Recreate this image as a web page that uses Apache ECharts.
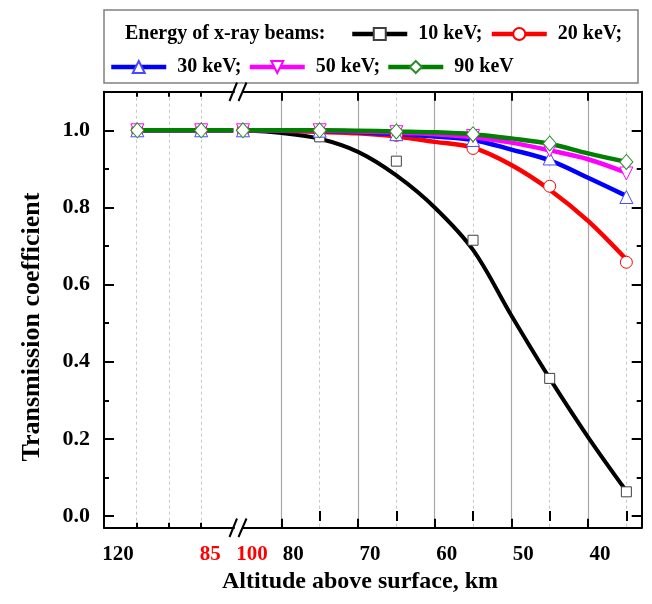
<!DOCTYPE html>
<html><head><meta charset="utf-8">
<script src="https://cdn.jsdelivr.net/npm/echarts@6/dist/echarts.min.js"></script>
<style>html,body{margin:0;padding:0;background:#fff}#c{width:652px;height:604px}</style>
</head><body><div id="c"></div>
<script>
// ---- data ----
const energies = ['10 keV', '20 keV', '30 keV', '50 keV', '90 keV'];
const colors = ['#000000', '#ff0000', '#0000ff', '#ff00ff', '#008000'];

// left (high-altitude) segment of the broken axis
const leftAltitudes = [108, 85];
const leftMarks = [[1.0, 1.0], [1.0, 1.0], [1.0, 1.0], [1.0, 1.0], [1.0, 1.0]];
const leftCurveAltitudes = [108, 85, 73.5];
const leftCurves = [[1.0, 1.0, 1.0], [1.0, 1.0, 1.0], [1.0, 1.0, 1.0], [1.0, 1.0, 1.0], [1.0, 1.0, 1.0]];

// right segment: computed points (markers)
const rightAltitudes = [85, 75, 65, 55, 45, 35];
const mark10 = [1.0, 0.983, 0.92, 0.715, 0.357, 0.063];
const mark20 = [1.0, 0.998, 0.987, 0.953, 0.855, 0.658];
const mark30 = [1.0, 0.999, 0.99, 0.975, 0.927, 0.827];
const mark50 = [1.0, 1.0, 0.995, 0.985, 0.948, 0.888];
const mark90 = [1.0, 1.0, 0.997, 0.99, 0.966, 0.918];

// right segment: fitted curves
const curveAltitudes = [85, 80, 75, 70, 65, 60, 55, 50, 45, 40, 35];
const curve10 = [1.0, 0.993, 0.978, 0.944, 0.883, 0.80, 0.69, 0.52, 0.357, 0.205, 0.065];
const curve20 = [1.0, 0.999, 0.996, 0.992, 0.984, 0.97, 0.955, 0.91, 0.846, 0.765, 0.665];
const curve30 = [1.0, 1.0, 0.998, 0.995, 0.99, 0.984, 0.975, 0.95, 0.922, 0.877, 0.83];
const curve50 = [1.0, 1.0, 0.999, 0.997, 0.994, 0.99, 0.982, 0.968, 0.948, 0.925, 0.89];
const curve90 = [1.0, 1.0, 1.0, 0.999, 0.997, 0.995, 0.99, 0.979, 0.965, 0.94, 0.918];

// ticks / labels
const yMajorTicks = [0, 0.2, 0.4, 0.6, 0.8, 1.0];
const yMinorTicks = [0.1, 0.3, 0.5, 0.7, 0.9];
const leftTicks = [108.33, 96.67, 85];
const leftLabels = [120, 85];
const rightMajorTicks = [80, 70, 60, 50, 40];
const rightMinorTicks = [75, 65, 55, 45, 35];
const rightLabels = [85, 80, 70, 60, 50, 40];
const rightLabelText = {85: '100'};   // red break label as printed in the original
const redLabels = [85];

const xTitle = 'Altitude above surface, km';
const yTitle = 'Transmission coefficient';
const legendTitle = 'Energy of x-ray beams:';

// ---- styling ----
const FONT = 'Liberation Serif';
const symbols = ['rect', 'circle', 'triangle', 'triangle', 'diamond'];
const symbolRot = [0, 0, 0, 180, 0];
const symbolSizes = [10, 12, 13, 13, [13, 15]];
const markBorder = ['#404040', '#ff0000', '#4848ff', '#ff00ff', '#2e8b2e'];
const lineWidths = [4, 4.5, 4.5, 4.5, 4.5];
const rightMarks = [mark10, mark20, mark30, mark50, mark90];
const rightCurves = [curve10, curve20, curve30, curve50, curve90];

const zip = (xs, ys) => xs.map((x, i) => [x, ys[i]]);

const series = [];
function curveSeries(i, xi, yi, xs, ys) {
  return {
    type: 'line', name: energies[i], xAxisIndex: xi, yAxisIndex: yi,
    data: zip(xs, ys), smooth: 0.35, showSymbol: false,
    symbol: symbols[i], symbolRotate: symbolRot[i], symbolSize: symbolSizes[i],
    lineStyle: {color: colors[i], width: lineWidths[i]},
    itemStyle: {color: '#ffffff', borderColor: markBorder[i], borderWidth: 1},
    z: 2, silent: true
  };
}
function markSeries(i, xi, yi, xs, ys) {
  return {
    type: 'scatter', name: energies[i], xAxisIndex: xi, yAxisIndex: yi,
    data: zip(xs, ys),
    symbol: symbols[i], symbolRotate: symbolRot[i], symbolSize: symbolSizes[i],
    itemStyle: {color: '#ffffff', borderColor: markBorder[i], borderWidth: 1, opacity: 1},
    z: 4, silent: true
  };
}
for (let i = 0; i < 5; i++) series.push(curveSeries(i, 2, 2, curveAltitudes, rightCurves[i]));
for (let i = 0; i < 5; i++) series.push(curveSeries(i, 0, 0, leftCurveAltitudes, leftCurves[i]));
for (let i = 0; i < 5; i++) series.push(markSeries(i, 2, 2, rightAltitudes, rightMarks[i]));
for (let i = 0; i < 5; i++) series.push(markSeries(i, 0, 0, leftAltitudes, leftMarks[i]));

const axisLine = {show: true, onZero: false, lineStyle: {color: '#000', width: 2}};
const noLine = {show: false};
const labelFont = {fontFamily: FONT, fontWeight: 'bold', fontSize: 21, color: '#000'};

const GT = 91.7, GH = 436;
const LEFT_MIN = 73.2, LEFT_MAX = 120;
const RIGHT_MIN = 33, RIGHT_MAX = 85;

const legendCommon = {
  padding: 0, orient: 'horizontal', itemWidth: 55, itemHeight: 15, selectedMode: false,
  lineStyle: {width: 4.5},
  textStyle: {fontFamily: FONT, fontWeight: 'bold', fontSize: 20, color: '#000', padding: [0, 0, 0, 6]}
};

const option = {
  animation: false,
  backgroundColor: '#ffffff',
  grid: [
    {left: 104, top: GT, width: 130, height: GH},
    {left: 243, top: GT, width: 398.7, height: GH}
  ],
  xAxis: [
    { // 0 left bottom
      gridIndex: 0, type: 'value', position: 'bottom', inverse: true, min: LEFT_MIN, max: LEFT_MAX,
      axisLine,
      axisTick: {show: true, inside: true, length: 5, customValues: leftTicks, lineStyle: {color: '#000', width: 2}},
      splitLine: {show: true, lineStyle: {color: '#c8c8c8', width: 1, type: [3, 3]}},
      axisLabel: {
        show: true, customValues: leftLabels, margin: 16, ...labelFont,
        formatter: v => redLabels.includes(v) ? '{r|' + v + '}' : '{b|' + v + '}',
        rich: {
          b: {...labelFont, padding: [0, 0, 0, 28]},
          r: {...labelFont, color: '#ff0000', padding: [0, 0, 0, 18]}
        }
      }
    },
    { // 1 left top
      gridIndex: 0, type: 'value', position: 'top', inverse: true, min: LEFT_MIN, max: LEFT_MAX,
      axisLine,
      axisTick: {show: true, inside: true, length: 5, customValues: leftTicks, lineStyle: {color: '#000', width: 2}},
      splitLine: {show: false}, axisLabel: {show: false}
    },
    { // 2 right bottom major
      gridIndex: 1, type: 'value', position: 'bottom', inverse: true, min: RIGHT_MIN, max: RIGHT_MAX,
      axisLine,
      axisTick: {show: true, inside: true, length: 9, customValues: rightMajorTicks, lineStyle: {color: '#000', width: 2}},
      splitLine: {show: true, lineStyle: {color: '#a8a8a8', width: 1.2}},
      axisLabel: {
        show: true, customValues: rightLabels, margin: 16, ...labelFont,
        formatter: v => redLabels.includes(v) ? '{r|' + (rightLabelText[v] || v) + '}' : '{b|' + v + '}',
        rich: {
          b: {...labelFont, padding: [0, 0, 0, 24]},
          r: {...labelFont, color: '#ff0000', padding: [0, 0, 0, 18]}
        }
      }
    },
    { // 3 right bottom minor
      gridIndex: 1, type: 'value', position: 'bottom', inverse: true, min: RIGHT_MIN, max: RIGHT_MAX,
      axisLine: noLine,
      axisTick: {show: true, inside: true, length: 5, customValues: rightMinorTicks, lineStyle: {color: '#000', width: 2}},
      splitLine: {show: true, lineStyle: {color: '#c8c8c8', width: 1, type: [3, 3]}},
      axisLabel: {show: false}
    },
    { // 4 right top major
      gridIndex: 1, type: 'value', position: 'top', inverse: true, min: RIGHT_MIN, max: RIGHT_MAX,
      axisLine,
      axisTick: {show: true, inside: true, length: 9, customValues: rightMajorTicks, lineStyle: {color: '#000', width: 2}},
      splitLine: {show: false}, axisLabel: {show: false}
    },
    { // 5 right top minor
      gridIndex: 1, type: 'value', position: 'top', inverse: true, min: RIGHT_MIN, max: RIGHT_MAX,
      axisLine: noLine,
      axisTick: {show: true, inside: true, length: 5, customValues: rightMinorTicks, lineStyle: {color: '#000', width: 2}},
      splitLine: {show: false}, axisLabel: {show: false}
    }
  ],
  yAxis: [
    { // 0 left major
      gridIndex: 0, type: 'value', position: 'left', min: -0.03, max: 1.1,
      axisLine,
      axisTick: {show: true, inside: true, length: 10, customValues: yMajorTicks, lineStyle: {color: '#000', width: 2}},
      axisLabel: {show: true, customValues: yMajorTicks, margin: 14, ...labelFont, fontSize: 22, formatter: v => v.toFixed(1)},
      splitLine: {show: false}
    },
    { // 1 left minor
      gridIndex: 0, type: 'value', position: 'left', min: -0.03, max: 1.1,
      axisLine: noLine,
      axisTick: {show: true, inside: true, length: 5, customValues: yMinorTicks, lineStyle: {color: '#000', width: 2}},
      axisLabel: {show: false}, splitLine: {show: false}
    },
    { // 2 right major
      gridIndex: 1, type: 'value', position: 'right', min: -0.03, max: 1.1,
      axisLine,
      axisTick: {show: true, inside: true, length: 10, customValues: yMajorTicks, lineStyle: {color: '#000', width: 2}},
      axisLabel: {show: false}, splitLine: {show: false}
    },
    { // 3 right minor
      gridIndex: 1, type: 'value', position: 'right', min: -0.03, max: 1.1,
      axisLine: noLine,
      axisTick: {show: true, inside: true, length: 5, customValues: yMinorTicks, lineStyle: {color: '#000', width: 2}},
      axisLabel: {show: false}, splitLine: {show: false}
    }
  ],
  legend: [
    {
      ...legendCommon, data: energies.slice(0, 2), left: 350, top: 24, itemGap: 7,
      formatter: n => n + ';'
    },
    {
      ...legendCommon, data: energies.slice(2), left: 109, top: 57, itemGap: 6,
      formatter: n => n === energies[energies.length - 1] ? n : n + ';'
    }
  ],
  graphic: [
    {type: 'rect', shape: {x: 104, y: 10, width: 534, height: 73},
     style: {fill: 'none', stroke: '#808080', lineWidth: 1.5}, z: 1},
    {type: 'text', x: 125, y: 33.6,
     style: {text: legendTitle, font: 'bold 20px "Liberation Serif"', fill: '#000', textAlign: 'left', textVerticalAlign: 'middle'}},
    {type: 'text', x: 360, y: 582,
     style: {text: xTitle, font: 'bold 24px "Liberation Serif"', fill: '#000', textAlign: 'center', textVerticalAlign: 'middle'}},
    {type: 'text', x: 32, y: 327, rotation: Math.PI / 2,
     style: {text: yTitle, font: 'bold 26px "Liberation Serif"', fill: '#000', textAlign: 'center', textVerticalAlign: 'middle'}},
    // axis-break marks
    {type: 'line', shape: {x1: 229.5, y1: 537, x2: 237, y2: 518.5}, style: {stroke: '#000', lineWidth: 2}, z: 10},
    {type: 'line', shape: {x1: 238.5, y1: 537, x2: 246.5, y2: 518.5}, style: {stroke: '#000', lineWidth: 2}, z: 10},
    {type: 'line', shape: {x1: 229.5, y1: 101, x2: 237, y2: 82.5}, style: {stroke: '#000', lineWidth: 2}, z: 10},
    {type: 'line', shape: {x1: 238.5, y1: 101, x2: 246.5, y2: 82.5}, style: {stroke: '#000', lineWidth: 2}, z: 10}
  ],
  series
};
const chart = echarts.init(document.getElementById('c'));
chart.setOption(option);
</script>
</body></html>
